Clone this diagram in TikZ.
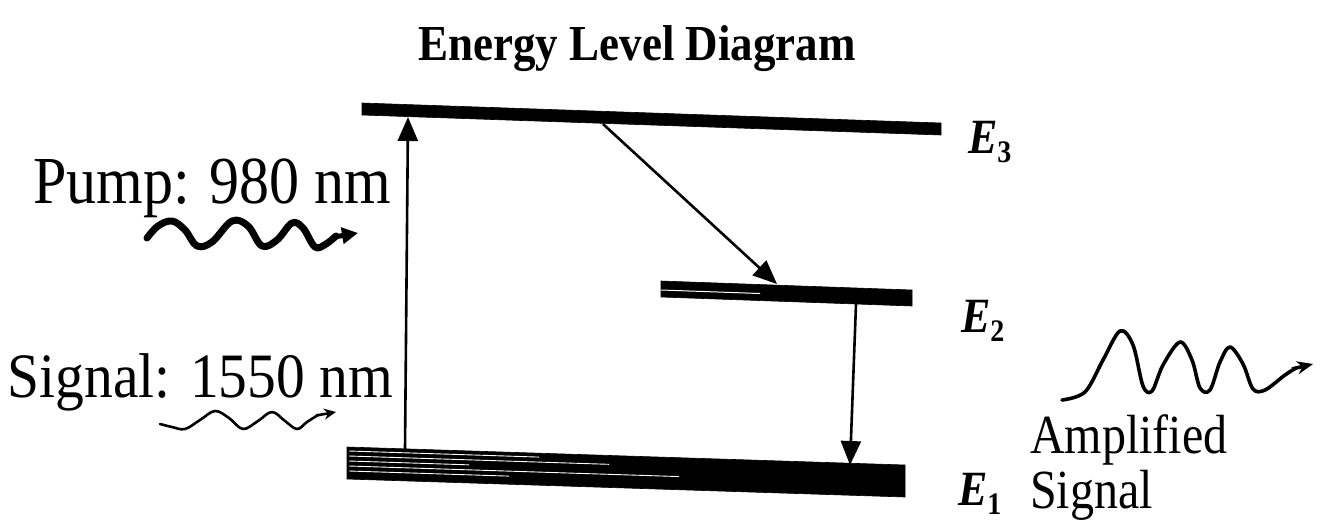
\documentclass[tikz,border=0pt]{standalone}
\usepackage{fontspec}
\setmainfont{Liberation Serif}
\usetikzlibrary{arrows.meta}
\newcommand{\tallt}[2][1.22]{\scalebox{1}[#1]{#2}}
\newcommand{\elab}[1]{\tallt[1.12]{\fontsize{44}{44}\selectfont\bfseries\itshape E\raisebox{-0.2em}{\fontsize{28}{28}\selectfont\bfseries\upshape #1}}}
\tikzset{
  lbl/.style={anchor=base west, inner sep=0pt, outer sep=0pt},
  bar/.style={fill=black, draw=black, line width=0.6pt},
  trans/.style={line width=2.6pt, -{Triangle[length=24pt,width=20pt]}},
  wave/.style={line cap=round, line join=round},
}
\begin{document}
\begin{tikzpicture}[x=1pt,y=-1pt]
\path[use as bounding box] (0,0) rectangle (1322,520);

% title
\node[anchor=base, inner sep=0pt] (title) at (637,60)
  {\tallt[1.12]{\fontsize{45}{45}\selectfont\bfseries Energy Level Diagram}};

% energy levels (slightly tilted)
\draw[bar] (362,103) -- (941,123) -- (941,135) -- (362,115) -- cycle;
\draw[bar] (661,281) -- (912,290) -- (912,306) -- (661,297) -- cycle;
\draw[bar] (347,447) -- (905,465) -- (905,497) -- (347,479) -- cycle;
% white streaks in bars
\draw[white, line width=1pt] (661,290) -- (760,293.5);
\foreach \dy/\len in {4/190,9/260,14/120,19/330,24/160}{
  \draw[white, line width=0.9pt] (349,447+\dy) -- ++(\len,0.032*\len);
}

% named points on levels
\coordinate (p1) at (405,449);
\coordinate (p3) at (408,117);
\coordinate (d3) at (603,124);
\coordinate (d2) at (777,284);
\coordinate (v2) at (856,304);
\coordinate (v1) at (850,465);

\draw[trans] (p1) -- (p3);
\draw[trans] (d3) -- (d2);
\draw[trans] (v2) -- (v1);

% labels
\node[lbl] (E3) at (968,153) {\elab{3}};
\node[lbl] (E2) at (961,332) {\elab{2}};
\node[lbl] (E1) at (958,505) {\elab{1}};

\node[lbl] (pump) at (33,203) {\tallt[1.12]{\fontsize{60}{60}\selectfont Pump: 980 nm}};
\node[lbl] (sig) at (8,397) {\tallt[1.1]{\fontsize{57.5}{57.5}\selectfont Signal: 1550 nm}};
\node[lbl] (amp) at (1030,453) {\tallt[1.15]{\fontsize{48}{48}\selectfont Amplified}};
\node[lbl] (asig) at (1030,508) {\tallt[1.15]{\fontsize{48}{48}\selectfont Signal}};

% pump photon
\draw[wave, line width=7pt] plot[smooth, tension=0.6] coordinates
  {(147,238) (158,226) (172,221) (185,230) (197,246) (212,242) (232,221) (248,226) (262,246) (277,240) (292,223) (303,228) (315,247) (326,244) (336,236)};
\draw[line width=5pt, -{Triangle[length=16pt,width=16pt]}] (334,237) -- (358,233);

% signal photon
\draw[wave, line width=2.6pt] plot[smooth, tension=0.6] coordinates
  {(160,424) (172,427) (185,429) (200,420) (215,411) (229,418) (243,429) (258,421) (272,412) (285,421) (297,429) (307,422) (318,415)};
\draw[line width=2.6pt, -{Stealth[length=12pt,width=11pt]}] (316,415.5) -- (336,412);

% amplified photon
\draw[wave, line width=3.6pt] plot[smooth, tension=0.55] coordinates
  {(1062,400) (1085,392) (1103,360) (1120,331) (1133,345) (1143,386) (1152,391) (1163,365) (1180,342) (1192,360) (1200,388) (1210,390) (1220,362) (1230,347) (1243,364) (1253,389) (1265,390) (1285,375) (1296,368)};
\draw[line width=3.6pt, -{Stealth[length=16pt,width=13pt]}] (1292,369) -- (1313,364);
\end{tikzpicture}
\end{document}
